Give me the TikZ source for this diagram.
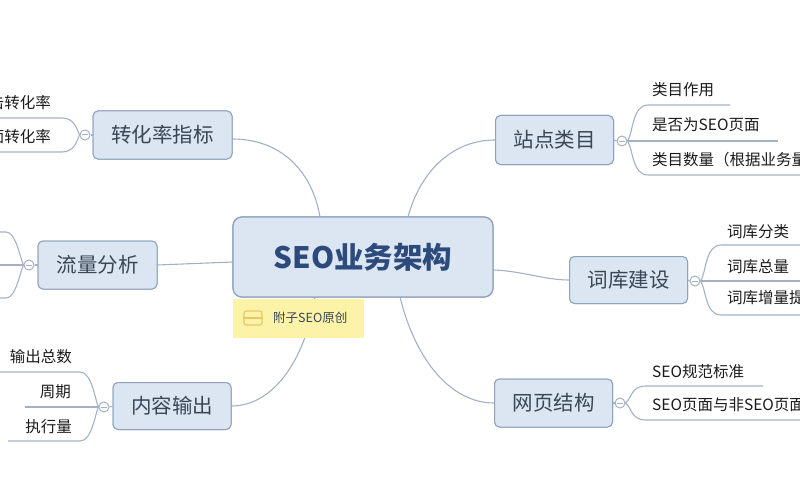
\documentclass[tikz,border=0pt]{standalone}
\usepackage{fontspec}
\setmainfont{Noto Sans CJK SC}
\definecolor{boxfill}{HTML}{DCE6F2}
\definecolor{boxborder}{HTML}{8FA2BC}
\definecolor{linec}{HTML}{A3B1C4}
\definecolor{branchtext}{HTML}{3A4656}
\definecolor{centertext}{HTML}{2C4A7C}
\definecolor{notefill}{HTML}{FCF2A8}
\definecolor{iconc}{HTML}{EBC767}
\definecolor{childtext}{HTML}{1A1A1A}
\begin{document}
\begin{tikzpicture}[x=1pt,y=-1pt,
  conn/.style={draw=linec, line width=1.1pt},
  branch/.style={draw=boxborder, fill=boxfill, rounded corners=5pt, line width=1pt,
    text=branchtext, font=\fontsize{20.5}{21}\selectfont, minimum width=118pt,
    minimum height=48pt, inner sep=0pt},
  centerbox/.style={draw=boxborder, fill=boxfill, rounded corners=9pt, line width=1.2pt,
    text=centertext, font=\fontsize{29.5}{30}\selectfont\bfseries, minimum width=260pt,
    minimum height=80pt, inner sep=0pt},
  child/.style={text=childtext, font=\fontsize{15.5}{16}\selectfont, inner sep=0pt},
  knob/.style={circle, draw=linec, fill=white, line width=1pt, minimum size=10pt, inner sep=0pt},
  notebox/.style={fill=notefill, minimum width=131pt, minimum height=39pt, inner sep=0pt}
]
\useasboundingbox (0,0) rectangle (800,500);
\begin{scope}
\clip (0,0) rectangle (800,500);

% ---------- central and branch nodes (positions) ----------
\node[centerbox] (c) at (363,257) {SEO业务架构};
\node[branch, minimum width=139pt] (zh) at (162.5,135) {转化率指标};
\node[branch, minimum width=119pt] (lf) at (97.5,265) {流量分析};
\node[branch, minimum height=47pt] (nr) at (172,406) {内容输出};
\node[branch, minimum height=49pt] (zd) at (554.5,140) {站点类目};
\node[branch, minimum height=47pt] (ck) at (628.5,280) {词库建设};
\node[branch] (wy) at (553.5,403) {网页结构};

% ---------- connectors from the centre ----------
\coordinate (ct1) at (320,217);
\coordinate (ct2) at (408,217);
\coordinate (cb1) at (315,297);
\coordinate (cb2) at (400,297);
\draw[conn] ([yshift=-4pt]zh.east) .. controls (280,139) and (312,170) .. (ct1);
\draw[conn] (ct2) .. controls (420,172) and (452,140) .. (zd.west);
\draw[conn] (lf.east) -- ([yshift=-5pt]c.west);
\draw[conn] ([yshift=-13pt]c.east) .. controls (522,271) and (545,280) .. (ck.west);
\draw[conn] (cb1) .. controls (305,362) and (272,406) .. (nr.east);
\draw[conn] (cb2) .. controls (416,362) and (452,403) .. (wy.west);

% redraw boxes over connectors
\node[centerbox] at (c) {SEO业务架构};
\node[branch, minimum width=139pt] at (zh) {转化率指标};
\node[branch, minimum width=119pt] at (lf) {流量分析};
\node[branch, minimum height=47pt] at (nr) {内容输出};
\node[branch, minimum height=49pt] at (zd) {站点类目};
\node[branch, minimum height=47pt] at (ck) {词库建设};
\node[branch] at (wy) {网页结构};

% ---------- note ----------
\node[notebox, anchor=north west] (note) at (233,299) {};
\node[draw=iconc, line width=1.2pt, rounded corners=2.5pt, minimum width=18pt,
      minimum height=14pt, inner sep=0pt] (icon) at (253,318) {};
\draw[iconc, line width=1.2pt] (icon.west) -- (icon.east);
\node[text=branchtext, font=\fontsize{12.5}{13}\selectfont, anchor=west, inner sep=0pt] (notetext) at (273,318) {附子SEO原创};

% ---------- 转化率指标 children ----------
\node[knob] (k1) at (85,135) {};
\node[child, anchor=east] (a1) at (51,103) {点击转化率};
\node[child, anchor=east] (a2) at (51,137) {页面转化率};
\coordinate (a1u) at (-10,118);
\coordinate (a2u) at (-10,152);
\draw[conn] (a1u) -- (62,118) .. controls (75,118) and (77,130) .. (k1.west);
\draw[conn] (a2u) -- (62,152) .. controls (75,152) and (77,140) .. (k1.west);
\draw[conn] (zh.west) -- (k1.east);
\draw[linec, line width=1pt] (82,135) -- (88,135);

% ---------- 流量分析 children ----------
\node[knob] (k2) at (29,265) {};
\coordinate (b1u) at (-10,232);
\coordinate (b2u) at (-10,265);
\coordinate (b3u) at (-10,298);
\draw[conn] (b1u) -- (6,232) .. controls (16,232) and (20,258) .. (k2.west);
\draw[conn] (b2u) -- (k2.west);
\draw[conn] (b3u) -- (6,298) .. controls (16,298) and (20,272) .. (k2.west);
\draw[conn] (lf.west) -- (k2.east);
\draw[linec, line width=1pt] (26,265) -- (32,265);

% ---------- 内容输出 children ----------
\node[knob] (k3) at (104,407) {};
\node[child, anchor=east] (n1) at (72,357) {输出总数};
\node[child, anchor=east] (n2) at (71,392) {周期};
\node[child, anchor=east] (n3) at (72,427) {执行量};
\coordinate (n1u) at (-10,372);
\coordinate (n2u) at (25,407);
\coordinate (n3u) at (8,441);
\draw[conn] (n1u) -- (80,372) .. controls (92,372) and (95,400) .. (k3.west);
\draw[conn] (n2u) -- (k3.west);
\draw[conn] (n3u) -- (80,441) .. controls (92,441) and (95,414) .. (k3.west);
\draw[conn] (nr.west) -- (k3.east);
\draw[linec, line width=1pt] (101,407) -- (107,407);

% ---------- 站点类目 children ----------
\node[knob] (k4) at (622,141) {};
\node[child, anchor=west] (s1) at (652,90) {类目作用};
\node[child, anchor=west] (s2) at (652,125) {是否为SEO页面};
\node[child, anchor=west] (s3) at (652,160) {类目数量（根据业务量）};
\coordinate (s1u) at (730,105);
\coordinate (s2u) at (778,141);
\coordinate (s3u) at (810,175);
\draw[conn] (k4.east) .. controls (633,134) and (632,105) .. (648,105) -- (s1u);
\draw[conn] (k4.east) -- (s2u);
\draw[conn] (k4.east) .. controls (633,148) and (632,175) .. (648,175) -- (s3u);
\draw[conn] (zd.east) -- (k4.west);
\draw[linec, line width=1pt] (619,141) -- (625,141);

% ---------- 词库建设 children ----------
\node[knob] (k5) at (695,281) {};
\node[child, anchor=west] (w1) at (727,232) {词库分类};
\node[child, anchor=west] (w2) at (727,267) {词库总量};
\node[child, anchor=west] (w3) at (727,298) {词库增量提升};
\coordinate (w1u) at (810,245);
\coordinate (w2u) at (810,281);
\coordinate (w3u) at (810,315);
\draw[conn] (k5.east) .. controls (706,274) and (705,245) .. (721,245) -- (w1u);
\draw[conn] (k5.east) -- (w2u);
\draw[conn] (k5.east) .. controls (706,288) and (705,315) .. (721,315) -- (w3u);
\draw[conn] (ck.east) -- (k5.west);
\draw[linec, line width=1pt] (692,281) -- (698,281);

% ---------- 网页结构 children ----------
\node[knob] (k6) at (620,403) {};
\node[child, anchor=west] (p1) at (652,372) {SEO规范标准};
\node[child, anchor=west] (p2) at (652,405) {SEO页面与非SEO页面区别};
\coordinate (p1u) at (763,386);
\coordinate (p2u) at (810,420);
\draw[conn] (k6.east) .. controls (632,398) and (631,386) .. (646,386) -- (p1u);
\draw[conn] (k6.east) .. controls (632,408) and (631,420) .. (646,420) -- (p2u);
\draw[conn] (wy.east) -- (k6.west);
\draw[linec, line width=1pt] (617,403) -- (623,403);
\end{scope}
\end{tikzpicture}
\end{document}
